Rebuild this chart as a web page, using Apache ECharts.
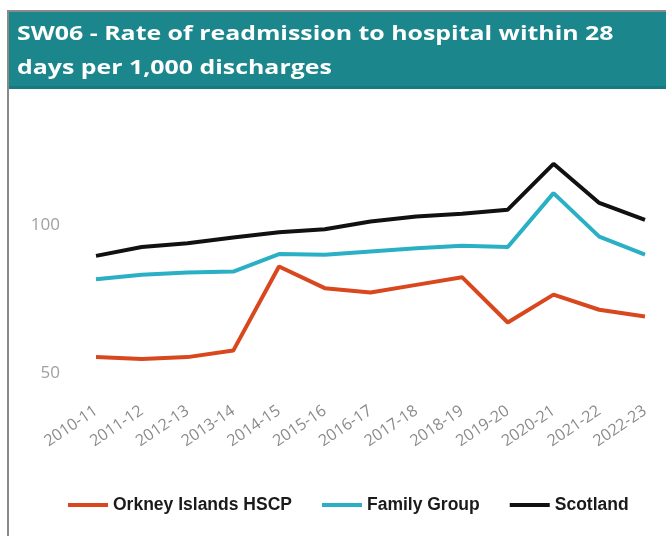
<!DOCTYPE html>
<html>
<head>
<meta charset="utf-8">
<script src="https://cdn.jsdelivr.net/npm/echarts@6/dist/echarts.min.js"></script>
<style>
  html, body { margin: 0; padding: 0; background: #fff; }
  #chart { width: 666px; height: 536px; }
</style>
</head>
<body>
<div id="chart"></div>
<script>
// SW06 readmission rate, per 1,000 discharges
var years = ['2010-11', '2011-12', '2012-13', '2013-14', '2014-15', '2015-16', '2016-17',
    '2017-18', '2018-19', '2019-20', '2020-21', '2021-22', '2022-23'];
var orkney = [55.3, 54.7, 55.3, 57.5, 85.9, 78.6, 77.1, 79.7, 82.3, 67.0, 76.4, 71.3, 69.0];
var familyGroup = [81.6, 83.1, 83.9, 84.2, 90.1, 89.9, 91.0, 92.1, 92.9, 92.5, 110.7, 96.0, 89.9];
var scotland = [89.5, 92.5, 93.8, 95.7, 97.5, 98.5, 101.1, 102.8, 103.7, 105.1, 120.6, 107.4, 101.7];
var yLabels = [50, 100];

var option = {
    animation: false,
    backgroundColor: '#fff',
    graphic: [
        // frame
        {
            type: 'rect',
            shape: { x: 8, y: 11, width: 700, height: 560 },
            style: { fill: 'none', stroke: '#8a8a8a', lineWidth: 2 },
            z: 0
        },
        // title band
        {
            type: 'rect',
            shape: { x: 9, y: 12, width: 660, height: 77 },
            style: { fill: '#1b868c' },
            z: 1
        },
        {
            type: 'rect',
            shape: { x: 9, y: 86, width: 660, height: 3 },
            style: { fill: '#187a80' },
            z: 1
        },
        {
            type: 'text',
            x: 17,
            y: 18,
            scaleX: 1.31,
            style: {
                text: 'SW06 - Rate of readmission to hospital within 28\ndays per 1,000 discharges',
                fill: '#ffffff',
                fontFamily: 'Open Sans',
                fontWeight: 'bold',
                fontSize: 19,
                lineHeight: 34
            },
            z: 5
        }
    ],
    legend: {
        left: 63,
        top: 491,
        icon: 'rect',
        itemWidth: 40,
        itemHeight: 4,
        itemGap: 30,
        textStyle: {
            color: '#1a1a1a',
            fontFamily: 'Liberation Sans',
            fontWeight: 'bold',
            fontSize: 17.5
        },
        data: ['Orkney Islands HSCP', 'Family Group', 'Scotland']
    },
    grid: {
        left: 96,
        right: 21,
        top: 136,
        bottom: 133.6
    },
    xAxis: {
        type: 'category',
        data: years,
        boundaryGap: false,
        axisLine: { show: false },
        axisTick: { show: false },
        axisLabel: {
            rotate: 34,
            margin: 7,
            color: '#8a8a8a',
            fontFamily: 'Open Sans',
            fontSize: 16
        }
    },
    yAxis: {
        type: 'value',
        min: 40,
        max: 130,
        interval: 10,
        splitLine: { show: false },
        axisLine: { show: false },
        axisTick: { show: false },
        axisLabel: {
            margin: 36,
            color: '#a0a0a0',
            fontFamily: 'Open Sans',
            fontSize: 17,
            formatter: function (v) {
                return yLabels.indexOf(v) >= 0 ? String(v) : '';
            }
        }
    },
    series: [
        {
            name: 'Orkney Islands HSCP',
            type: 'line',
            data: orkney,
            symbol: 'none',
            lineStyle: { width: 4, color: '#d8471e' },
            itemStyle: { color: '#d8471e' }
        },
        {
            name: 'Family Group',
            type: 'line',
            data: familyGroup,
            symbol: 'none',
            lineStyle: { width: 4, color: '#2ab0c5' },
            itemStyle: { color: '#2ab0c5' }
        },
        {
            name: 'Scotland',
            type: 'line',
            data: scotland,
            symbol: 'none',
            lineStyle: { width: 4, color: '#111111' },
            itemStyle: { color: '#111111' }
        }
    ]
};

var chart = echarts.init(document.getElementById('chart'), null, { renderer: 'canvas' });
chart.setOption(option);
</script>
</body>
</html>
